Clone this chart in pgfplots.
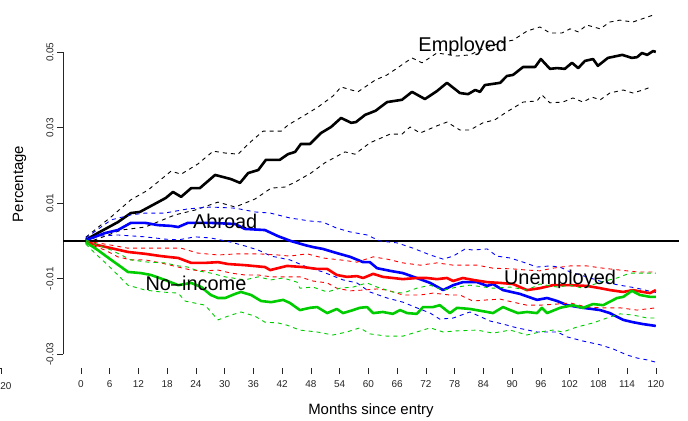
\documentclass[border=0pt]{standalone}
\usepackage{fontspec}
\setmainfont{Liberation Sans}
\usepackage{pgfplots}
\pgfplotsset{compat=1.18}
\definecolor{rgreen}{RGB}{0,205,0}
\begin{document}
\begin{tikzpicture}
\useasboundingbox (0,0) rectangle (688bp,421bp);
\begin{axis}[
  at={(63bp,53bp)}, anchor=south west,
  width=616bp, height=368bp, scale only axis,
  xmin=-3.758, xmax=124.84, ymin=-0.03364, ymax=0.06384,
  axis line style={draw=none},
  xtick={0,6,...,120},
  ytick={-0.03,-0.01,0.01,0.03,0.05},
  yticklabels={-0.03,-0.01,0.01,0.03,0.05},
  scaled y ticks=false, scaled x ticks=false,
  /pgf/number format/assume math mode=true,
  tick align=outside, tick pos=left,
  major tick length=6bp,
  tick style={black!85, line width=0.6bp},
  tick label style={font=\fontsize{10}{12}\selectfont, text=black!85},
  xticklabel style={yshift=-3bp},
  yticklabel style={rotate=90, anchor=south},
  every axis plot/.append style={line join=round},
]
\draw[black!85, line width=0.6bp] (axis cs:0,-0.03364) -- (axis cs:120,-0.03364);
\draw[black!85, line width=0.6bp] (axis cs:-3.758,-0.03) -- (axis cs:-3.758,0.05);
\addplot[black, line width=1.1bp] coordinates {(-3.758,0)(124.84,0)};

% Employed
\addplot[black, line width=0.9bp, dash pattern=on 4bp off 4bp] coordinates {
(1,0.0010)(6.3,0.0064)(10.4,0.0109)(14.0,0.0135)(18.8,0.0185)(20.9,0.0177)(24.4,0.0204)(27.6,0.0238)(30.1,0.0233)(32.8,0.0230)(34.9,0.0257)(38.0,0.0291)(41.8,0.0291)(43.2,0.0307)(46.8,0.0334)(49.5,0.0355)(52.6,0.0384)(54.3,0.0408)(57.8,0.0395)(61.4,0.0426)(63.9,0.0440)(66.0,0.0458)(69.1,0.0485)(71.2,0.0472)(74.3,0.0498)(78.5,0.0490)(81.2,0.0493)(83.3,0.0506)(88.1,0.0527)(90.2,0.0532)(93.1,0.0556)(95.8,0.0567)(97.9,0.0551)(100.4,0.0551)(102.1,0.0562)(103.8,0.0554)(105.6,0.0572)(108.4,0.0562)(110.4,0.0580)(112.5,0.0585)(115.2,0.0580)(118.2,0.0593)(120,0.0601)};
\addplot[black, line width=0.9bp, dash pattern=on 4bp off 4bp] coordinates {
(1,-0.0005)(4,0.0008)(8.4,0.0029)(13.4,0.0037)(19.6,0.0069)(23.8,0.0082)(28.6,0.0103)(32.2,0.0090)(36.3,0.0111)(39.7,0.0140)(42.6,0.0143)(44.7,0.0156)(48.0,0.0180)(50.9,0.0207)(55.1,0.0236)(57.2,0.0230)(60.3,0.0260)(64.5,0.0283)(67.0,0.0283)(68.7,0.0302)(70.8,0.0286)(74.3,0.0305)(76.4,0.0315)(79.1,0.0294)(81.2,0.0294)(83.9,0.0313)(86.4,0.0321)(88.9,0.0342)(92.3,0.0368)(95.2,0.0371)(96.2,0.0387)(97.9,0.0366)(100.6,0.0368)(102.7,0.0379)(104.8,0.0368)(106.7,0.0381)(108.4,0.0374)(110.4,0.0392)(113.2,0.0400)(115.2,0.0392)(117.3,0.0400)(119.0,0.0408)};
\addplot[black, line width=2.6bp] coordinates {
(1,0.0003)(3.5,0.0021)(7.7,0.0050)(10.4,0.0074)(12.3,0.0077)(16.1,0.0103)(17.7,0.0114)(19.2,0.0130)(20.9,0.0117)(23.0,0.0140)(24.8,0.0140)(28.0,0.0175)(31.3,0.0164)(33.2,0.0154)(34.9,0.0180)(37.0,0.0188)(38.6,0.0215)(41.5,0.0215)(43.2,0.0230)(44.7,0.0236)(45.9,0.0257)(47.8,0.0257)(50.1,0.0286)(52.2,0.0302)(54.3,0.0326)(56.4,0.0313)(57.4,0.0315)(59.3,0.0334)(61.5,0.0345)(63.9,0.0368)(67.0,0.0374)(69.1,0.0395)(71.8,0.0376)(74.3,0.0397)(76.4,0.0419)(79.1,0.0392)(80.8,0.0389)(82.3,0.0400)(83.3,0.0395)(84.3,0.0413)(87.5,0.0419)(88.9,0.0437)(90.2,0.0440)(92.3,0.0461)(94.8,0.0461)(96.0,0.0482)(97.9,0.0456)(99.4,0.0458)(101.0,0.0456)(102.5,0.0472)(103.8,0.0458)(105.2,0.0477)(106.9,0.0482)(107.9,0.0464)(110.0,0.0485)(113.0,0.0493)(115.0,0.0485)(116.1,0.0487)(117.1,0.0498)(118.2,0.0493)(119.4,0.0503)(120,0.0501)};

% Abroad
\addplot[blue, line width=0.9bp, dash pattern=on 4bp off 4bp] coordinates {
(1,0.0008)(6.3,0.0056)(10.4,0.0069)(13.4,0.0074)(17.5,0.0074)(22.3,0.0085)(27.1,0.0090)(32.2,0.0087)(36.3,0.0077)(39.5,0.0074)(43.6,0.0061)(47.8,0.0053)(50.5,0.0050)(53.4,0.0034)(56.2,0.0024)(59.7,0.0016)(62.4,0.0000)(66.0,-0.0005)(69.3,-0.0019)(72.9,-0.0037)(75.6,-0.0048)(77.7,-0.0040)(80.2,-0.0021)(81.8,-0.0024)(84.8,-0.0021)(86.8,-0.0040)(89.6,-0.0045)(92.3,-0.0056)(95.2,-0.0069)(97.9,-0.0066)(100.0,-0.0069)(102.1,-0.0082)(105.6,-0.0095)(109.0,-0.0109)(112.5,-0.0117)(116.1,-0.0125)(119.4,-0.0135)(120,-0.0136)};
\addplot[blue, line width=0.9bp, dash pattern=on 4bp off 4bp] coordinates {
(1,-0.0003)(3.5,0.0013)(7.7,0.0016)(13.4,0.0011)(17.5,0.0005)(20.3,0.0003)(23.8,0.0011)(27.1,0.0008)(31.3,-0.0003)(34.2,-0.0013)(37.0,-0.0024)(39.7,-0.0040)(43.6,-0.0050)(47.2,-0.0069)(50.5,-0.0082)(54.7,-0.0103)(57.6,-0.0111)(60.3,-0.0135)(63.9,-0.0151)(67.2,-0.0162)(70.1,-0.0177)(72.9,-0.0191)(74.9,-0.0207)(77.7,-0.0204)(81.2,-0.0188)(85.4,-0.0212)(88.1,-0.0220)(91.0,-0.0230)(95.2,-0.0241)(99.4,-0.0241)(101.5,-0.0254)(104.8,-0.0265)(108.4,-0.0275)(111.1,-0.0286)(114.0,-0.0302)(116.1,-0.0310)(118.2,-0.0315)(120,-0.0321)};
\addplot[blue, line width=2.6bp] coordinates {
(1,0.0002)(5.0,0.0021)(7.7,0.0029)(10.4,0.0048)(13.4,0.0048)(16.1,0.0042)(18.8,0.0040)(20.3,0.0037)(22.3,0.0048)(27.1,0.0048)(32.2,0.0045)(34.2,0.0032)(38.4,0.0029)(41.1,0.0013)(43.8,0.0000)(46.8,-0.0011)(48.4,-0.0016)(50.5,-0.0021)(53.4,-0.0032)(56.2,-0.0042)(58.9,-0.0056)(60.3,-0.0056)(61.8,-0.0072)(64.5,-0.0079)(67.2,-0.0085)(70.1,-0.0098)(72.9,-0.0111)(75.6,-0.0130)(77.7,-0.0117)(79.7,-0.0109)(82.7,-0.0109)(84.8,-0.0119)(86.0,-0.0114)(88.1,-0.0130)(91.6,-0.0140)(95.2,-0.0156)(97.3,-0.0151)(99.4,-0.0159)(101.5,-0.0170)(104.8,-0.0177)(108.4,-0.0183)(110.4,-0.0191)(113.2,-0.0209)(115.2,-0.0215)(117.3,-0.0220)(120,-0.0225)};

% Unemployed
\addplot[red, line width=0.9bp, dash pattern=on 4bp off 4bp] coordinates {
(1,0.0000)(6.3,-0.0011)(9.8,-0.0019)(13.4,-0.0019)(17.5,-0.0019)(20.9,-0.0019)(24.4,-0.0032)(28.6,-0.0037)(32.8,-0.0034)(37.0,-0.0034)(41.1,-0.0037)(43.6,-0.0040)(47.2,-0.0034)(50.5,-0.0045)(54.1,-0.0050)(57.6,-0.0056)(61.0,-0.0042)(63.9,-0.0048)(67.2,-0.0058)(70.8,-0.0064)(74.3,-0.0058)(77.7,-0.0064)(82.7,-0.0064)(86.0,-0.0072)(90.2,-0.0074)(93.1,-0.0077)(95.8,-0.0079)(98.5,-0.0072)(102.1,-0.0066)(105.6,-0.0066)(109.0,-0.0072)(112.5,-0.0077)(116.1,-0.0082)(120,-0.0082)};
\addplot[red, line width=0.9bp, dash pattern=on 4bp off 4bp] coordinates {
(1,-0.0005)(5.0,-0.0024)(7.7,-0.0042)(10.4,-0.0050)(13.4,-0.0050)(16.7,-0.0058)(20.3,-0.0069)(23.0,-0.0077)(25.9,-0.0079)(28.6,-0.0077)(31.3,-0.0085)(34.2,-0.0090)(37.0,-0.0090)(39.7,-0.0095)(42.2,-0.0095)(45.7,-0.0095)(48.4,-0.0106)(51.4,-0.0111)(53.4,-0.0125)(56.2,-0.0132)(58.9,-0.0130)(61.8,-0.0127)(63.9,-0.0130)(67.2,-0.0143)(70.8,-0.0143)(73.5,-0.0138)(77.0,-0.0143)(79.1,-0.0143)(81.8,-0.0159)(84.8,-0.0156)(87.5,-0.0154)(90.2,-0.0162)(93.1,-0.0170)(95.8,-0.0170)(99.4,-0.0167)(102.1,-0.0164)(105.6,-0.0175)(109.0,-0.0177)(112.5,-0.0177)(116.1,-0.0183)(120,-0.0177)};
\addplot[red, line width=2.6bp] coordinates {
(1,-0.0002)(3.5,-0.0011)(6.3,-0.0019)(9.8,-0.0029)(13.4,-0.0034)(16.7,-0.0040)(20.3,-0.0045)(23.0,-0.0058)(25.9,-0.0058)(28.6,-0.0056)(30.7,-0.0061)(34.2,-0.0064)(38.4,-0.0069)(39.5,-0.0077)(43.0,-0.0066)(46.3,-0.0069)(49.3,-0.0074)(51.4,-0.0074)(53.4,-0.0090)(55.5,-0.0095)(57.6,-0.0093)(58.9,-0.0098)(61.0,-0.0087)(63.0,-0.0095)(65.1,-0.0098)(67.2,-0.0101)(70.1,-0.0098)(72.2,-0.0098)(74.3,-0.0101)(76.4,-0.0098)(77.7,-0.0106)(79.7,-0.0098)(81.8,-0.0103)(84.8,-0.0109)(87.5,-0.0111)(90.2,-0.0114)(93.1,-0.0130)(95.8,-0.0125)(98.5,-0.0117)(102.1,-0.0117)(105.6,-0.0119)(108.4,-0.0125)(110.4,-0.0130)(113.2,-0.0135)(115.2,-0.0130)(117.3,-0.0135)(118.8,-0.0138)(120,-0.0130)};

% No-income
\addplot[rgreen, line width=0.9bp, dash pattern=on 4bp off 4bp] coordinates {
(1,0.0003)(3.5,-0.0011)(6.3,-0.0024)(8.4,-0.0037)(10.4,-0.0050)(14.0,-0.0056)(17.5,-0.0058)(20.3,-0.0066)(22.3,-0.0069)(24.4,-0.0079)(27.1,-0.0085)(30.1,-0.0095)(34.2,-0.0103)(37.0,-0.0095)(39.7,-0.0103)(42.2,-0.0098)(45.1,-0.0109)(45.7,-0.0125)(48.4,-0.0122)(51.4,-0.0135)(54.1,-0.0125)(56.8,-0.0122)(59.7,-0.0111)(61.8,-0.0122)(65.1,-0.0135)(67.2,-0.0138)(70.1,-0.0125)(72.9,-0.0117)(75.6,-0.0130)(78.5,-0.0122)(81.2,-0.0117)(86.0,-0.0125)(89.6,-0.0122)(93.1,-0.0130)(95.8,-0.0114)(99.4,-0.0122)(102.1,-0.0117)(104.8,-0.0125)(108.4,-0.0109)(111.9,-0.0098)(114.6,-0.0085)(117.3,-0.0085)(120,-0.0085)};
\addplot[rgreen, line width=0.9bp, dash pattern=on 4bp off 4bp] coordinates {
(1,-0.0008)(2.9,-0.0032)(5.6,-0.0064)(7.7,-0.0090)(9.8,-0.0117)(13.4,-0.0130)(16.7,-0.0135)(20.3,-0.0138)(21.7,-0.0159)(25.9,-0.0170)(28.6,-0.0209)(30.7,-0.0199)(33.4,-0.0188)(36.3,-0.0199)(38.4,-0.0215)(41.1,-0.0217)(43.0,-0.0223)(45.7,-0.0236)(49.3,-0.0241)(52.6,-0.0249)(55.5,-0.0241)(58.2,-0.0230)(60.3,-0.0246)(63.9,-0.0252)(67.2,-0.0252)(70.1,-0.0241)(72.9,-0.0230)(75.6,-0.0241)(78.5,-0.0238)(82.7,-0.0236)(86.0,-0.0244)(89.6,-0.0236)(93.1,-0.0249)(95.8,-0.0241)(98.5,-0.0236)(100.6,-0.0241)(103.5,-0.0228)(106.9,-0.0217)(109.8,-0.0204)(112.5,-0.0193)(115.2,-0.0196)(118.2,-0.0204)(120,-0.0204)};
\addplot[rgreen, line width=2.6bp] coordinates {
(1,-0.0003)(3.5,-0.0024)(6.3,-0.0050)(8.4,-0.0069)(9.8,-0.0082)(12.5,-0.0085)(14.6,-0.0090)(17.5,-0.0103)(20.3,-0.0117)(23.0,-0.0111)(25.1,-0.0122)(27.1,-0.0143)(28.6,-0.0151)(30.1,-0.0151)(32.2,-0.0140)(33.4,-0.0135)(35.5,-0.0143)(37.6,-0.0159)(39.7,-0.0162)(42.2,-0.0156)(43.6,-0.0164)(45.7,-0.0183)(47.8,-0.0177)(49.3,-0.0175)(51.4,-0.0191)(53.4,-0.0180)(54.7,-0.0191)(56.8,-0.0183)(58.2,-0.0177)(59.7,-0.0175)(61.0,-0.0191)(63.0,-0.0188)(65.1,-0.0193)(66.6,-0.0183)(68.1,-0.0191)(70.1,-0.0193)(71.4,-0.0175)(73.5,-0.0175)(74.9,-0.0170)(77.0,-0.0191)(78.5,-0.0177)(81.2,-0.0180)(84.8,-0.0188)(86.0,-0.0191)(88.1,-0.0175)(89.6,-0.0183)(91.2,-0.0191)(93.1,-0.0188)(95.2,-0.0191)(96.2,-0.0177)(97.3,-0.0191)(100.0,-0.0177)(102.7,-0.0170)(104.8,-0.0177)(106.9,-0.0167)(109.0,-0.0170)(111.9,-0.0151)(113.2,-0.0148)(115.0,-0.0132)(116.7,-0.0143)(118.8,-0.0148)(120,-0.0148)};

\node[anchor=base, font=\fontsize{20}{24}\selectfont] at (axis cs:79.7,0.0503) {Employed};
\node[anchor=base, font=\fontsize{20}{24}\selectfont] at (axis cs:30.1,0.0034) {Abroad};
\node[anchor=base, font=\fontsize{20}{24}\selectfont] at (axis cs:24.0,-0.0130) {No–income};
\node[anchor=base, font=\fontsize{20}{24}\selectfont] at (axis cs:100.0,-0.0114) {Unemployed};
\end{axis}
\node[anchor=base, font=\fontsize{15}{18}\selectfont] at (371bp,7bp) {Months since entry};
\node[anchor=base, rotate=90, font=\fontsize{15}{18}\selectfont] at (23bp,237bp) {Percentage};
\node[anchor=base east, font=\fontsize{10}{12}\selectfont, text=black!85, inner sep=0pt] at (11.6bp,32bp) {20};
\draw[black!85, line width=0.6bp] (-1bp,53bp) -- (1bp,53bp) -- (1bp,47bp);
\end{tikzpicture}
\end{document}
